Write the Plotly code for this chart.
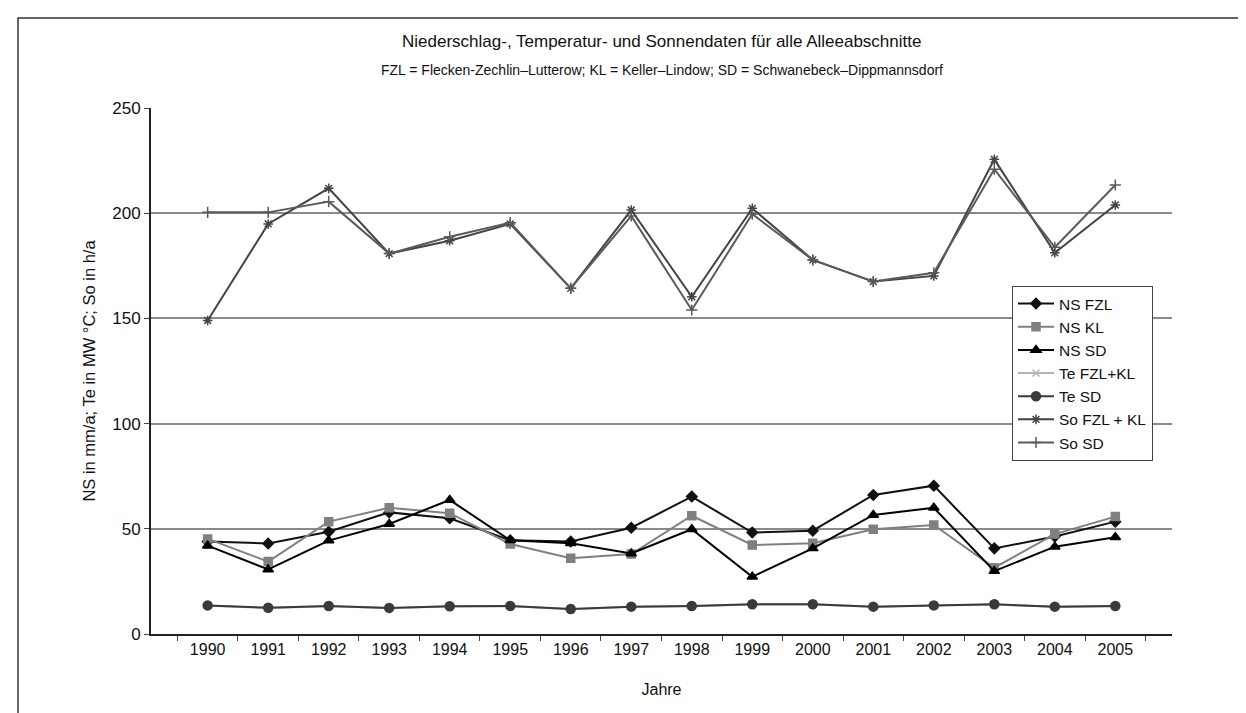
import plotly.graph_objects as go

jahre = [str(j) for j in range(1990, 2006)]

ns_fzl = [44, 43, 48.6, 57.8, 55, 44.5, 44, 50.5, 65.3, 48.2, 49.1, 66.1, 70.5, 40.7, 46.3, 53.4]
ns_kl = [45.2, 34.4, 53.4, 60, 57.4, 42.8, 36, 38, 56.2, 42.3, 43.1, 49.8, 51.8, 31.5, 47.5, 55.8]
ns_sd = [42, 30.7, 44.4, 52.3, 63.7, 44.5, 43.1, 38.3, 49.8, 27.2, 40.7, 56.6, 60, 29.9, 41.5, 46]
te_fzl_kl = [13.4, 12.4, 13.2, 12.3, 13.1, 13.2, 11.8, 12.9, 13.2, 14, 14, 12.9, 13.5, 14, 12.9, 13.2]
te_sd = [13.6, 12.5, 13.3, 12.4, 13.2, 13.3, 11.9, 13, 13.3, 14.1, 14.1, 13, 13.6, 14.1, 13, 13.3]
so_fzl_kl = [149, 194.9, 211.8, 180.8, 186.9, 194.9, 164.3, 201.5, 160.3, 202.3, 177.8, 167.5, 170.2, 225.6, 181.2, 203.9]
so_sd = [200.4, 200.4, 205.5, 180.8, 188.8, 195.5, 164.3, 198.7, 154, 199.6, 177.8, 167.5, 171.7, 220.9, 183.8, 213.4]

serien = [
    ("NS FZL", ns_fzl, "#111111", "diamond", 8),
    ("NS KL", ns_kl, "#808080", "square", 8),
    ("NS SD", ns_sd, "#000000", "triangle-up", 9),
    ("Te FZL+KL", te_fzl_kl, "#b4b4b4", "x-thin-open", 7),
    ("Te SD", te_sd, "#3a3a3a", "circle", 9),
    ("So FZL + KL", so_fzl_kl, "#444444", "asterisk-open", 8),
    ("So SD", so_sd, "#5a5a5a", "cross-thin-open", 8),
]

# Seite hat einen Rand von ca. 8 px -> Plotbereich entsprechend verschoben
L, T, PW, PH = 143, 100, 1021, 526

fig = go.Figure()
for name, werte, farbe, symbol, groesse in serien:
    fig.add_trace(go.Scatter(
        x=jahre, y=werte, name=name, mode="lines+markers",
        line=dict(color=farbe, width=2),
        marker=dict(symbol=symbol, size=groesse, color=farbe,
                    line=dict(color=farbe, width=1.5)),
    ))

fig.update_layout(
    width=1246, height=713,
    margin=dict(l=L, r=1246 - L - PW, t=T, b=713 - T - PH),
    paper_bgcolor="white", plot_bgcolor="white",
    font=dict(family="Liberation Sans, Arial, sans-serif", color="#111", size=16),
    showlegend=True,
    legend=dict(x=(1004 - L) / PW, y=1 - (278 - T) / PH, xanchor="left", yanchor="top",
                bgcolor="white", bordercolor="#444", borderwidth=1,
                font=dict(size=15.5), tracegroupgap=0, itemwidth=36),
    xaxis=dict(type="category", tickson="boundaries", ticks="outside", ticklen=5,
               showline=True, linecolor="#222", linewidth=2, showgrid=False,
               title=dict(text="Jahre", font=dict(size=16), standoff=27),
               tickfont=dict(size=16)),
    yaxis=dict(range=[0, 250], dtick=50, ticks="outside", ticklen=5,
               showline=True, linecolor="#222", linewidth=2,
               showgrid=True, gridcolor="#8a8a8a", gridwidth=1.5, zeroline=False,
               title=dict(text="NS in mm/a; Te in MW °C; So in h/a", font=dict(size=16.5), standoff=12),
               tickfont=dict(size=17)),
    annotations=[
        dict(text="Niederschlag-, Temperatur- und Sonnendaten für alle Alleeabschnitte",
             xref="paper", yref="paper", x=0.5, y=1 + (T - 34) / PH,
             showarrow=False, font=dict(size=17), yanchor="middle"),
        dict(text="FZL = Flecken-Zechlin\u2013Lutterow; KL = Keller\u2013Lindow; SD = Schwanebeck\u2013Dippmannsdorf",
             xref="paper", yref="paper", x=0.5, y=1 + (T - 62) / PH,
             showarrow=False, font=dict(size=14), yanchor="middle"),
    ],
    shapes=[
        dict(type="rect", xref="paper", yref="paper",
             x0=(10 - L) / PW, x1=1.2, y0=-0.3, y1=1 + (T - 10) / PH,
             line=dict(color="#333", width=1.5), fillcolor="rgba(0,0,0,0)", layer="below"),
    ],
)

fig.write_html("out.html")
